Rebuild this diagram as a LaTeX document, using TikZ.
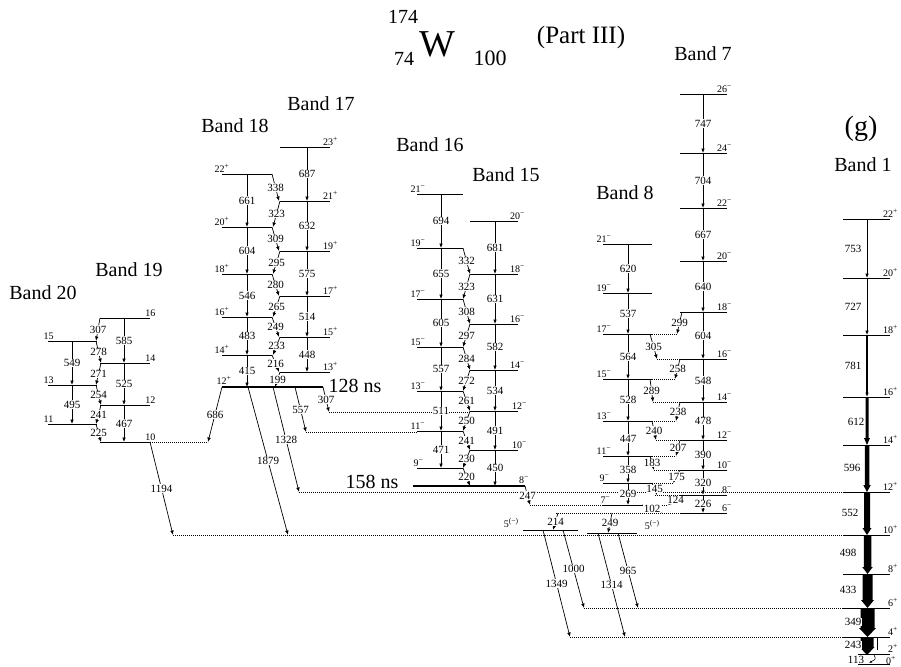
\documentclass[tikz,border=0pt]{standalone}
\usepackage{fontspec}
\setmainfont{Liberation Serif}
\usetikzlibrary{arrows.meta}
\newcommand{\Pp}{\raisebox{0.42em}{\fontsize{7.5}{7.5}\selectfont +}}
\newcommand{\Mm}{\raisebox{0.42em}{\fontsize{7.5}{7.5}\selectfont −}}
\newcommand{\Pm}{\raisebox{0.42em}{\fontsize{7.5}{7.5}\selectfont (−)}}
\newcommand{\LV}[3]{\draw[lvl] (#1,#3) -- (#2,#3);}
\newcommand{\DL}[3]{\draw[dotl] (#1,#3) -- (#2,#3);}
\newcommand{\GT}[5]{\draw[gam] (#1,#2) -- node[elab]{#5} (#3,#4);}
\newcommand{\SW}[3]{\node[slab,anchor=south west] at (#1,#2) {#3};}
\newcommand{\SE}[3]{\node[slab,anchor=south east] at (#1,#2) {#3};}
\newcommand{\FA}[6]{\fill (#1-#4/2,#2) -- (#1+#4/2,#2) -- (#1+#4/2,#3-#6) -- (#1+#5/2,#3-#6) -- (#1,#3) -- (#1-#5/2,#3-#6) -- (#1-#4/2,#3-#6) -- cycle;}
\tikzset{
 lvl/.style={line width=0.8pt},
 thk/.style={line width=2.6pt},
 dotl/.style={line width=0.6pt, dash pattern=on 0.7pt off 1.3pt},
 gam/.style={line width=0.7pt, -{Latex[length=4.5pt,width=3.6pt]}},
 elab/.style={font=\fontsize{11}{11}\selectfont, fill=white, inner sep=0.4pt},
 slab/.style={font=\fontsize{10}{10}\selectfont, inner sep=0.5pt},
 blab/.style={font=\fontsize{20}{20}\selectfont, inner sep=0pt},
}
\begin{document}
\begin{tikzpicture}[x=1pt,y=-1pt]
\useasboundingbox (0,0) rectangle (901,666);
\fill[white] (0,0) rectangle (901,666);

% ---------- titles ----------
\node[inner sep=0, font=\fontsize{38}{38}\selectfont] (tW) at (437,44) {W};
\node[inner sep=0, font=\fontsize{20}{20}\selectfont] (tA) at (403,17) {174};
\node[inner sep=0, font=\fontsize{20}{20}\selectfont] (tZ) at (404,59) {74};
\node[inner sep=0, font=\fontsize{22}{22}\selectfont] (tN) at (490,58) {100};
\node[inner sep=0, font=\fontsize{25}{25}\selectfont] (tP) at (581,37) {(Part III)};
\node[blab] (b20) at (43,293) {Band 20};
\node[blab] (b19) at (129,270) {Band 19};
\node[blab] (b18) at (235,126) {Band 18};
\node[blab] (b17) at (321,104) {Band 17};
\node[blab] (b16) at (430,145) {Band 16};
\node[blab] (b15) at (506,175) {Band 15};
\node[blab] (b8) at (625,193) {Band 8};
\node[blab] (b7) at (703,54) {Band 7};
\node[inner sep=0, font=\fontsize{28}{28}\selectfont] (bg) at (861,129) {(g)};
\node[blab] (b1) at (863,165) {Band 1};
\node[blab] (ns128) at (355,386) {128 ns};
\node[blab] (ns158) at (372,482) {158 ns};

% ---------- dotted extensions ----------
\DL{150}{208}{442}
\DL{173}{843}{535}
\DL{299}{843}{492}
\DL{306}{417}{432}
\DL{329}{470}{412}
\DL{584}{843}{608}
\DL{570}{843}{637}
\DL{530}{603}{505}
\DL{556}{680}{513}
\DL{652}{677}{334}
\DL{657}{680}{359}
\DL{652}{675}{379}
\DL{653}{680}{402}
\DL{652}{676}{421}
\DL{656}{680}{440}
\DL{652}{676}{456}
\DL{654}{680}{470}
\DL{652}{673}{483}
\DL{655}{680}{495}
\DL{642}{668}{505}

% ---------- Band 20 / 19 ----------
\LV{48}{97}{341} \LV{48}{97}{385} \LV{48}{97}{424}
\LV{100}{150}{318} \LV{100}{150}{363} \LV{100}{150}{405} \LV{100}{150}{442}
\GT{72}{341}{72}{385}{549} \GT{72}{385}{72}{424}{495}
\GT{124}{318}{124}{363}{585} \GT{124}{363}{124}{405}{525} \GT{124}{405}{124}{442}{467}
\GT{100}{318}{96}{341}{307} \GT{96}{341}{101}{363}{278} \GT{101}{363}{96}{385}{271}
\GT{96}{385}{101}{405}{254} \GT{101}{405}{96}{424}{241} \GT{96}{424}{101}{442}{225}
\GT{150}{442}{173}{535}{1194}
\SW{43}{340}{15} \SW{43}{384}{13} \SW{43}{423}{11}
\SE{156}{317}{16} \SE{156}{362}{14} \SE{156}{404}{12} \SE{156}{441}{10}

% ---------- Band 18 / 17 ----------
\LV{222}{272}{174} \LV{222}{272}{227} \LV{222}{272}{274} \LV{222}{272}{317} \LV{222}{272}{355}
\draw[thk] (222,387) -- (323,387);
\LV{280}{330}{147} \LV{280}{330}{201} \LV{280}{330}{251} \LV{280}{330}{296} \LV{280}{330}{337} \LV{280}{330}{372}
\GT{247}{174}{247}{227}{661} \GT{247}{227}{247}{274}{604} \GT{247}{274}{247}{317}{546}
\GT{247}{317}{247}{355}{483} \GT{247}{355}{247}{387}{415}
\GT{307}{147}{307}{201}{687} \GT{307}{201}{307}{251}{632} \GT{307}{251}{307}{296}{575}
\GT{307}{296}{307}{337}{514} \GT{307}{337}{307}{372}{448}
\GT{272}{174}{279}{201}{338} \GT{280}{201}{273}{227}{323} \GT{272}{227}{279}{251}{309}
\GT{280}{251}{273}{274}{295} \GT{272}{274}{279}{296}{280} \GT{280}{296}{273}{317}{265}
\GT{272}{317}{279}{337}{249} \GT{280}{337}{273}{355}{233} \GT{272}{355}{279}{372}{216}
\GT{280}{372}{275}{387}{199}
\GT{222}{387}{208}{442}{686}
\GT{248}{387}{288}{535}{1879}
\GT{273}{387}{299}{492}{1328}
\GT{295}{387}{306}{432}{557}
\GT{323}{387}{329}{412}{307}
\SW{214}{173}{22\Pp} \SW{214}{226}{20\Pp} \SW{214}{273}{18\Pp} \SW{214}{316}{16\Pp}
\SW{214}{354}{14\Pp} \SW{216}{385}{12\Pp}
\SE{338}{146}{23\Pp} \SE{338}{200}{21\Pp} \SE{338}{250}{19\Pp} \SE{338}{295}{17\Pp}
\SE{338}{336}{15\Pp} \SE{338}{371}{13\Pp}

% ---------- Band 16 / 15 ----------
\LV{417}{463}{194} \LV{417}{463}{248} \LV{417}{463}{299} \LV{417}{463}{347}
\LV{417}{463}{391} \LV{417}{463}{431} \LV{417}{463}{468}
\LV{470}{518}{221} \LV{470}{518}{274} \LV{470}{518}{324} \LV{470}{518}{370}
\LV{470}{518}{411} \LV{470}{518}{450}
\draw[thk] (413,486) -- (525,486);
\GT{441}{194}{441}{248}{694} \GT{441}{248}{441}{299}{655} \GT{441}{299}{441}{347}{605}
\GT{441}{347}{441}{391}{557} \GT{441}{391}{441}{431}{511} \GT{441}{431}{441}{468}{471}
\GT{495}{221}{495}{274}{681} \GT{495}{274}{495}{324}{631} \GT{495}{324}{495}{370}{582}
\GT{495}{370}{495}{411}{534} \GT{495}{411}{495}{450}{491} \GT{495}{450}{495}{486}{450}
\GT{463}{248}{470}{274}{332} \GT{470}{274}{463}{299}{323} \GT{463}{299}{470}{324}{308}
\GT{470}{324}{463}{347}{297} \GT{463}{347}{470}{370}{284} \GT{470}{370}{463}{391}{272}
\GT{463}{391}{470}{411}{261} \GT{470}{411}{463}{431}{250} \GT{463}{431}{470}{450}{241}
\GT{470}{450}{463}{468}{230} \GT{463}{468}{470}{486}{220}
\GT{525}{486}{530}{505}{247}
\SW{410}{193}{21\Mm} \SW{410}{247}{19\Mm} \SW{410}{298}{17\Mm} \SW{410}{346}{15\Mm}
\SW{410}{390}{13\Mm} \SW{410}{430}{11\Mm} \SW{413}{467}{9\Mm}
\SE{525}{220}{20\Mm} \SE{525}{273}{18\Mm} \SE{525}{323}{16\Mm} \SE{525}{369}{14\Mm}
\SE{527}{410}{12\Mm} \SE{527}{449}{10\Mm} \SE{529}{484}{8\Mm}

% ---------- Band 8 / 7 ----------
\LV{603}{652}{244} \LV{603}{652}{293} \LV{603}{652}{334} \LV{603}{652}{379}
\LV{603}{652}{421} \LV{603}{652}{456} \LV{603}{652}{483} \LV{603}{642}{505}
\LV{680}{727}{94} \LV{680}{727}{153} \LV{680}{727}{208} \LV{680}{727}{261}
\LV{680}{727}{312} \LV{680}{727}{359} \LV{680}{727}{402} \LV{680}{727}{440}
\LV{680}{727}{470} \LV{680}{727}{495} \LV{680}{727}{513}
\GT{628}{244}{628}{293}{620} \GT{628}{293}{628}{334}{537} \GT{628}{334}{628}{379}{564}
\GT{628}{379}{628}{421}{528} \GT{628}{421}{628}{456}{447} \GT{628}{456}{628}{483}{358}
\GT{628}{483}{628}{505}{269}
\GT{703}{94}{703}{153}{747} \GT{703}{153}{703}{208}{704} \GT{703}{208}{703}{261}{667}
\GT{703}{261}{703}{312}{640} \GT{703}{312}{703}{359}{604} \GT{703}{359}{703}{402}{548}
\GT{703}{402}{703}{440}{478} \GT{703}{440}{703}{470}{390} \GT{703}{470}{703}{495}{320}
\GT{703}{495}{703}{513}{226}
\GT{682}{312}{677}{334}{299} \GT{650}{334}{657}{359}{305} \GT{680}{359}{675}{379}{258}
\GT{650}{379}{653}{402}{289} \GT{680}{402}{676}{421}{238} \GT{652}{421}{656}{440}{240}
\GT{680}{440}{676}{456}{207} \GT{650}{456}{654}{470}{183} \GT{680}{470}{673}{483}{175}
\GT{652}{483}{657}{495}{145} \GT{683}{495}{668}{505}{124} \GT{642}{505}{662}{513}{102}
\SW{596}{243}{21\Mm} \SW{596}{292}{19\Mm} \SW{596}{333}{17\Mm} \SW{596}{378}{15\Mm}
\SW{596}{420}{13\Mm} \SW{596}{455}{11\Mm} \SW{599}{482}{9\Mm} \SW{600}{504}{7\Mm}
\SE{732}{93}{26\Mm} \SE{732}{152}{24\Mm} \SE{732}{207}{22\Mm} \SE{732}{260}{20\Mm}
\SE{732}{311}{18\Mm} \SE{732}{358}{16\Mm} \SE{732}{401}{14\Mm} \SE{732}{439}{12\Mm}
\SE{732}{469}{10\Mm} \SE{732}{494}{8\Mm} \SE{732}{512}{6\Mm}

% ---------- 5(-) levels ----------
\LV{523}{578}{530} \LV{587}{637}{533}
\GT{558}{513}{553}{530}{214}
\GT{612}{513}{608}{533}{249}
\node[slab] (fiveA) at (511,523) {5\Pm};
\node[slab] (fiveB) at (652,525) {5\Pm};
\GT{543}{530}{570}{637}{1349}
\GT{563}{530}{584}{608}{1000}
\GT{598}{533}{625}{637}{1314}
\GT{618}{533}{638}{608}{965}

% ---------- Band 1 ----------
\draw[gam] (867,219) -- (867,278);
\draw[gam] (867,278) -- (867,335);
\draw[gam, line width=1.2pt] (867,335) -- (867,397);
\FA{867}{397}{445}{3}{6}{7}
\FA{867}{445}{492}{4.5}{7.5}{7}
\FA{867}{492}{535}{6}{9}{7}
\FA{867.5}{535}{574}{7.5}{10.5}{7}
\FA{867.5}{574}{608}{10}{13}{8}
\FA{867.5}{608}{637}{14}{17}{9}
\FA{867}{637}{655}{13}{15}{8}
\draw[line width=0.6pt] (877,638) -- (877,650);
\draw[line width=0.6pt, -{Latex[length=3pt,width=2.5pt]}] (874,655) .. controls (876,659) .. (869,663);
\LV{843}{890}{219} \LV{843}{890}{278} \LV{843}{890}{335} \LV{843}{890}{397}
\LV{843}{890}{445} \LV{843}{890}{492} \LV{843}{890}{535} \LV{843}{890}{574}
\LV{843}{890}{608} \LV{843}{890}{637} \LV{858}{890}{654} \LV{858}{890}{664}
\node[elab] at (853,249) {753};
\node[elab] at (853,307) {727};
\node[elab] at (853,366) {781};
\node[elab] at (856,422) {612};
\node[elab] at (852,468) {596};
\node[elab] at (850,513) {552};
\node[elab] at (848,553) {498};
\node[elab] at (848,590) {433};
\node[elab] at (853,622) {349};
\node[elab] at (853,645) {243};
\node[elab] at (856,660) {113};
\SE{898}{218}{22\Pp} \SE{898}{277}{20\Pp} \SE{898}{334}{18\Pp} \SE{898}{396}{16\Pp}
\SE{898}{444}{14\Pp} \SE{898}{491}{12\Pp} \SE{898}{534}{10\Pp} \SE{898}{573}{8\Pp}
\SE{898}{607}{6\Pp} \SE{898}{636}{4\Pp} \SE{898}{653}{2\Pp} \SE{896}{665}{0\Pp}
\end{tikzpicture}
\end{document}
